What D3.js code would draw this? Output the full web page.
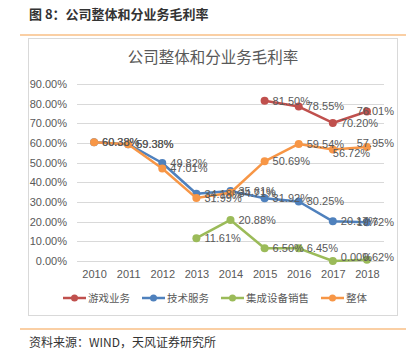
<!DOCTYPE html>
<html><head><meta charset="utf-8">
<script src="https://cdn.jsdelivr.net/npm/d3@7"></script>
<style>
html,body{margin:0;padding:0;background:#fff;}
svg{display:block;}
</style></head>
<body>
<svg id="c" width="416" height="355"></svg>
<script>
const years = ["2010","2011","2012","2013","2014","2015","2016","2017","2018"];
const seriesNames = ["游戏业务","技术服务","集成设备销售","整体"];
const seriesColors = ["#C0504D","#4F81BD","#9BBB59","#F79646"];
const gameValues = [null,null,null,null,null,81.50,78.55,70.20,76.01];
const techValues = [60.38,59.38,49.82,34.18,35.61,31.92,30.25,20.17,19.72];
const deviceValues = [null,null,null,11.61,20.88,6.50,6.45,0.00,0.62];
const totalValues = [60.38,59.38,47.01,31.99,34.71,50.69,59.54,56.72,57.95];
const yTicks = [0,10,20,30,40,50,60,70,80,90];

const allSeries = [gameValues, techValues, deviceValues, totalValues];
const svg = d3.select("#c");
const numFont = "'Liberation Sans Narrow','Liberation Sans',Arial,sans-serif";
const cjk = "'Noto Sans CJK SC','Noto Sans',sans-serif";

// header
svg.append("text").attr("x",29).attr("y",19).attr("font-family",cjk).attr("font-weight","bold")
  .attr("font-size",13).attr("fill","#333").text("图 8：公司整体和分业务毛利率");
svg.append("line").attr("x1",20).attr("x2",406).attr("y1",35).attr("y2",35).attr("stroke","#F5A04A").attr("stroke-width",1.2);
svg.append("line").attr("x1",20).attr("x2",406).attr("y1",329).attr("y2",329).attr("stroke","#F5A04A").attr("stroke-width",1.2);
svg.append("text").attr("x",29).attr("y",347).attr("font-family",cjk)
  .attr("font-size",12).attr("fill","#333").text("资料来源：WIND，天风证券研究所");

// chart box
svg.append("rect").attr("x",28.5).attr("y",38.5).attr("width",369).attr("height",277)
  .attr("fill","#fff").attr("stroke","#D9D9D9");
svg.append("text").attr("x",213).attr("y",63).attr("text-anchor","middle").attr("font-family",cjk)
  .attr("font-size",15.5).attr("fill","#595959").text("公司整体和分业务毛利率");

const x = d3.scalePoint().domain(years).range([77,384]).padding(0.5);
const y = d3.scaleLinear().domain([0,90]).range([261,84]);

// grid
const g = svg.append("g");
g.selectAll("line.grid").data(yTicks).join("line")
  .attr("x1",77).attr("x2",384).attr("y1",d=>Math.round(y(d))+0.5).attr("y2",d=>Math.round(y(d))+0.5)
  .attr("stroke","#D9D9D9").attr("stroke-width",1);

const yAxis = d3.axisLeft(y).tickValues(yTicks).tickSize(0).tickPadding(0).tickFormat(d=>d.toFixed(2)+"%");
const ya = svg.append("g").attr("transform","translate(67,0)").call(yAxis);
ya.select(".domain").remove();
ya.selectAll("text").attr("font-family",numFont).attr("font-size",11).attr("fill","#595959");

const xAxis = d3.axisBottom(x).tickSize(0).tickPadding(0);
const xa = svg.append("g").attr("transform","translate(0,270)").call(xAxis);
xa.select(".domain").remove();
xa.selectAll("text").attr("font-family",numFont).attr("font-size",11).attr("fill","#595959");

const line = d3.line().defined(d=>d.v!==null).x(d=>x(d.year)).y(d=>y(d.v));
allSeries.forEach((vals,i)=>{
  const pts = vals.map((v,j)=>({year:years[j],v:v}));
  svg.append("path").datum(pts).attr("d",line).attr("fill","none")
    .attr("stroke",seriesColors[i]).attr("stroke-width",2.5).attr("stroke-linejoin","round");
  svg.append("g").selectAll("circle").data(pts.filter(d=>d.v!==null)).join("circle")
    .attr("cx",d=>x(d.year)).attr("cy",d=>y(d.v)).attr("r",4).attr("fill",seriesColors[i]);
});

// manual label nudges, as in the reference (series index + year)
const nudge = {"3-2017":{dx:0,dy:4},"3-2018":{dx:8,dy:-3.5}};
const rightLimit = 394;
allSeries.forEach((vals,i)=>{
  const pts = vals.map((v,j)=>({year:years[j],v:v})).filter(d=>d.v!==null);
  svg.append("g").selectAll("text").data(pts).join("text")
    .attr("dy","0.35em")
    .attr("font-family",numFont).attr("font-size",11).attr("fill","#595959")
    .text(d=>d.v.toFixed(2)+"%")
    .each(function(d){
      const n = nudge[i+"-"+d.year] || {dx:8,dy:0};
      const w = this.getComputedTextLength();
      const px = Math.min(x(d.year)+n.dx, rightLimit - w);
      const py = Math.min(y(d.v)+n.dy, 257.5);
      d3.select(this).attr("x",px).attr("y",py);
    });
});

// legend
const legX = [63,142,221,321];
const lg = svg.append("g");
seriesNames.forEach((n,i)=>{
  const lx = legX[i];
  lg.append("line").attr("x1",lx).attr("x2",lx+23).attr("y1",298).attr("y2",298)
    .attr("stroke",seriesColors[i]).attr("stroke-width",2.5);
  lg.append("circle").attr("cx",lx+11.5).attr("cy",298).attr("r",3.5).attr("fill",seriesColors[i]);
  lg.append("text").attr("x",lx+25).attr("y",298).attr("dy","0.35em").attr("font-family",cjk)
    .attr("font-size",10.5).attr("fill","#595959").text(n);
});
</script>
</body></html>
